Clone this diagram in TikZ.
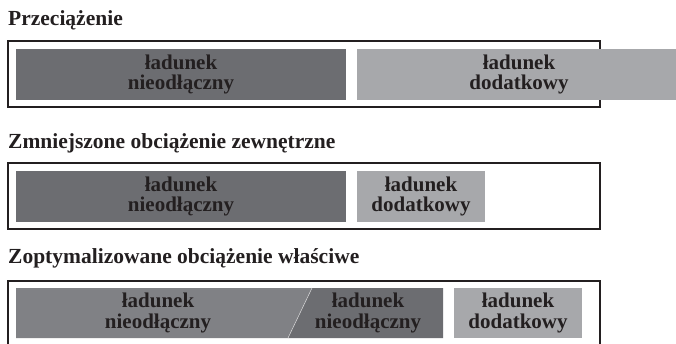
\documentclass[tikz,border=0pt]{standalone}
\usepackage{fontspec}
\setmainfont{Liberation Serif}
\definecolor{darkbar}{HTML}{6C6D71}
\definecolor{midbar}{HTML}{808185}
\definecolor{lightbar}{HTML}{A7A8AB}
\definecolor{inkc}{HTML}{231F20}
\begin{document}
\begin{tikzpicture}[x=1pt,y=-1pt,
  frameline/.style={draw=inkc,line width=2pt},
  bartext/.style={text=inkc,align=center,inner sep=0pt,font=\fontsize{21}{20.5}\selectfont\bfseries},
  titletext/.style={text=inkc,anchor=base west,inner sep=0pt,font=\fontsize{21.5}{24}\selectfont\bfseries}]
\useasboundingbox (0,0) rectangle (676,343);
\fill[white] (0,0) rectangle (676,343);

% Row 1
\node[titletext] (t1) at (8,25) {Przeciążenie};
\draw[frameline] (8,41) rectangle (600,107);
\fill[darkbar] (16,49) rectangle (346,100);
\fill[lightbar] (357,49) rectangle (676,100);
\node[bartext] (a1) at (181,74.5) {ładunek\\nieodłączny};
\node[bartext] (b1) at (519,74.5) {ładunek\\dodatkowy};

% Row 2
\node[titletext] (t2) at (8,148) {Zmniejszone obciążenie zewnętrzne};
\draw[frameline] (8,163) rectangle (600,229);
\fill[darkbar] (16,171) rectangle (346,222);
\fill[lightbar] (357,171) rectangle (485,222);
\node[bartext] (a2) at (181,196.5) {ładunek\\nieodłączny};
\node[bartext] (b2) at (421,196.5) {ładunek\\dodatkowy};

% Row 3
\node[titletext] (t3) at (8,263) {Zoptymalizowane obciążenie właściwe};
\draw[frameline] (8,344) -- (8,281) -- (600,281) -- (600,344);
\fill[midbar] (16,288) -- (312,288) -- (288,338) -- (16,338) -- cycle;
\fill[darkbar] (312,288) -- (443,288) -- (443,338) -- (288,338) -- cycle;
\draw[white!70!midbar,line width=0.5pt] (312,288) -- (288,338);
\fill[lightbar] (454,288) rectangle (582,338);
\node[bartext] (a3) at (158,313) {ładunek\\nieodłączny};
\node[bartext] (c3) at (368,313) {ładunek\\nieodłączny};
\node[bartext] (b3) at (518,313) {ładunek\\dodatkowy};
\end{tikzpicture}
\end{document}
